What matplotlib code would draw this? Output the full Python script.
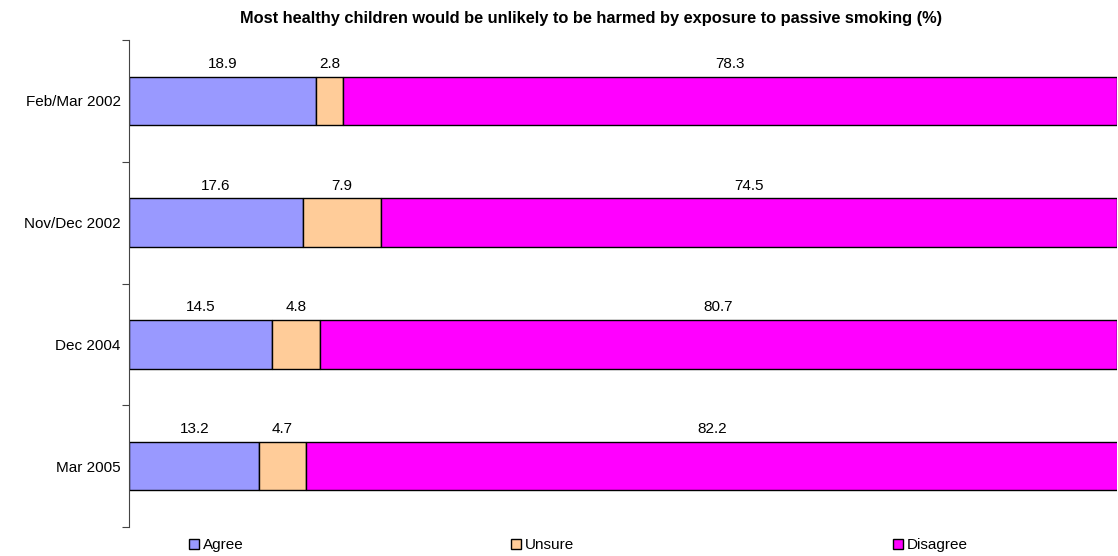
import matplotlib.pyplot as plt
from matplotlib.patches import Patch

plt.rcParams['font.family'] = ['Liberation Sans', 'DejaVu Sans']

# survey waves, top to bottom
periods = ['Feb/Mar 2002', 'Nov/Dec 2002', 'Dec 2004', 'Mar 2005']
agree = [18.9, 17.6, 14.5, 13.2]
unsure = [2.8, 7.9, 4.8, 4.7]
disagree = [78.3, 74.5, 80.7, 82.2]

series = ['Agree', 'Unsure', 'Disagree']
colors = ['#9999FF', '#FFCC99', '#FF00FF']

fig = plt.figure(figsize=(11.18, 5.56), dpi=100)
ax = fig.add_axes([129 / 1118, 1 - 527 / 556, 1 - 129 / 1118 - 0.001, (527 - 40) / 556])

ypos = list(range(len(periods)))
left = [0.0] * len(periods)
for name, vals, col in zip(series, [agree, unsure, disagree], colors):
    bars = ax.barh(ypos, vals, left=left, height=0.4, color=col,
                   edgecolor='black', linewidth=1, label=name)
    for b, v in zip(bars, vals):
        ax.annotate(f'{v:.1f}', (b.get_x() + b.get_width() / 2, b.get_y()),
                    xytext=(0, 4), textcoords='offset points',
                    ha='center', va='bottom', fontsize=11)
    left = [l + v for l, v in zip(left, vals)]

ax.set_xlim(0, 100)
ax.set_ylim(3.5, -0.5)

# ticks at category boundaries, labels at centres
ax.set_yticks([-0.5, 0.5, 1.5, 2.5, 3.5])
ax.set_yticklabels([])
ax.set_yticks(ypos, minor=True)
ax.set_yticklabels(periods, minor=True, fontsize=11)
ax.tick_params(axis='y', which='major', length=5, color='#444444')
ax.tick_params(axis='y', which='minor', length=0, pad=6)
ax.set_xticks([])

for s in ['top', 'right', 'bottom']:
    ax.spines[s].set_visible(False)
ax.spines['left'].set_color('#444444')

fig.text(591 / 1118, 1 - 18 / 556,
         'Most healthy children would be unlikely to be harmed by exposure to passive smoking (%)',
         ha='center', va='center', fontsize=11.8, fontweight='bold')

# legend entries spread across the bottom
legend_x = [189, 511, 893]
for name, col, lx in zip(series, colors, legend_x):
    h = Patch(facecolor=col, edgecolor='black', linewidth=1)
    fig.legend([h], [name], loc='center left', bbox_to_anchor=(lx / 1118, 1 - 545 / 556),
               frameon=False, fontsize=11, handlelength=0.65, handleheight=0.65,
               handletextpad=0.25, borderpad=0, borderaxespad=0)

fig.savefig('out.png', dpi=100)
